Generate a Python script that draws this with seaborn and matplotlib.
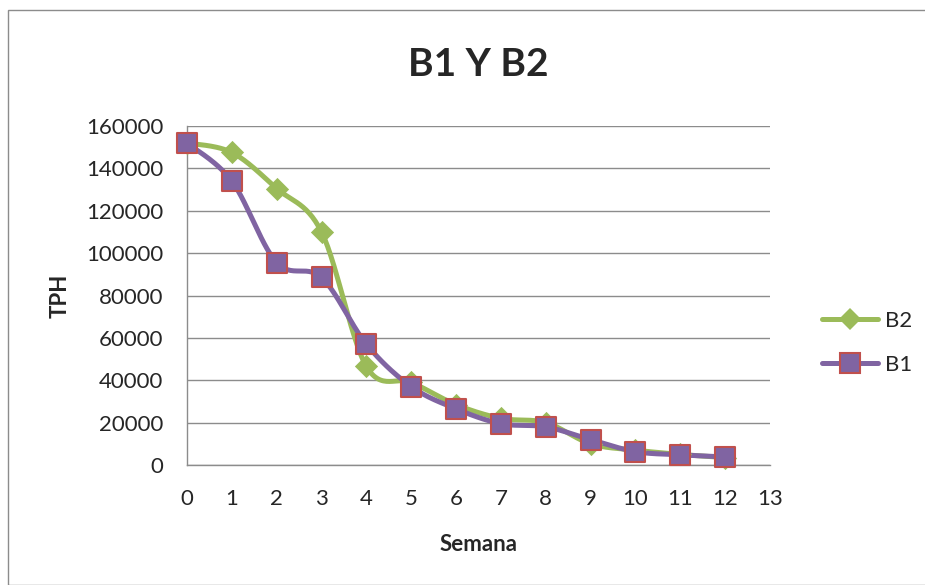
import numpy as np
import pandas as pd
import matplotlib
matplotlib.use('Agg')
import matplotlib.pyplot as plt
import seaborn as sns
from matplotlib.lines import Line2D
from matplotlib.patches import Rectangle

# datos
semana = [0, 1, 2, 3, 4, 5, 6, 7, 8, 9, 10, 11, 12]
b2 = [152000, 147500, 130500, 110000, 46500, 39000, 28500, 22000, 20000, 10000, 7000, 5000, 3500]
b1 = [152000, 134000, 95500, 88500, 57000, 37000, 26500, 19500, 18000, 12000, 6300, 4800, 3800]
yticks = list(range(0, 160001, 20000))
xticks = list(range(0, 14))

verde = '#9BBB59'
morado = '#8064A2'
rojo = '#C0504D'


def suavizar(x, y, n=30):
    # curva tipo Excel (bezier con tangentes de los vecinos)
    x = np.asarray(x, float)
    y = np.asarray(y, float)
    px, py = [], []
    for i in range(len(x) - 1):
        i0 = max(i - 1, 0)
        i3 = min(i + 2, len(x) - 1)
        c1x = x[i] + (x[i + 1] - x[i0]) / 6
        c1y = y[i] + (y[i + 1] - y[i0]) / 6
        c2x = x[i + 1] - (x[i3] - x[i]) / 6
        c2y = y[i + 1] - (y[i3] - y[i]) / 6
        t = np.linspace(0, 1, n)
        bx = (1 - t)**3 * x[i] + 3 * (1 - t)**2 * t * c1x + 3 * (1 - t) * t**2 * c2x + t**3 * x[i + 1]
        by = (1 - t)**3 * y[i] + 3 * (1 - t)**2 * t * c1y + 3 * (1 - t) * t**2 * c2y + t**3 * y[i + 1]
        px.extend(bx)
        py.extend(by)
    return np.array(px), np.array(py)


sns.set_style('white')
plt.rcParams['font.family'] = ['Lato', 'DejaVu Sans']

fig = plt.figure(figsize=(9.25, 5.85), dpi=100)
fig.patches.append(Rectangle((8 / 925, 0), 1, 1 - 10 / 585, transform=fig.transFigure,
                             fill=False, edgecolor='#8c8c8c', linewidth=1))
ax = fig.add_axes([187 / 925, 1 - 465 / 585, (770 - 187) / 925, (465 - 126) / 585])

for vals, color in [(b2, verde), (b1, morado)]:
    sx, sy = suavizar(semana, vals)
    sns.lineplot(x=sx, y=sy, ax=ax, color=color, linewidth=3.6, sort=False, estimator=None)

sns.scatterplot(x=semana, y=b2, ax=ax, marker='D', s=140, color=verde, edgecolor=verde,
                linewidth=0, zorder=3)
sns.scatterplot(x=semana, y=b1, ax=ax, marker='s', s=220, color=morado, edgecolor=rojo,
                linewidth=1.5, zorder=4)

ax.set_xlim(0, 13)
ax.set_ylim(0, 160000)
ax.set_xticks(xticks)
ax.set_yticks(yticks)
ax.set_xticklabels([str(v) for v in xticks], fontsize=16)
ax.set_yticklabels([str(v) for v in yticks], fontsize=16)
ax.grid(axis='y', color='#8c8c8c', linewidth=1)
ax.grid(axis='x', visible=False)
ax.set_axisbelow(True)
for lado in ['top', 'right']:
    ax.spines[lado].set_visible(False)
for lado in ['left', 'bottom']:
    ax.spines[lado].set_color('#8c8c8c')
    ax.spines[lado].set_linewidth(1)
ax.tick_params(axis='x', length=0, pad=17)
ax.tick_params(axis='y', length=0, pad=17)
for c in ax.collections:
    c.set_clip_on(False)

ax.set_xlabel('Semana', fontsize=16, fontweight='bold', labelpad=18)
ax.set_ylabel('TPH', fontsize=16, fontweight='bold', labelpad=11)
ax.set_title('B1 Y B2', fontsize=28, fontweight='bold', pad=36)

handles = [
    Line2D([], [], color=verde, linewidth=3.6, marker='D', markersize=11, markeredgewidth=0),
    Line2D([], [], color=morado, linewidth=3.6, marker='s', markersize=14,
           markerfacecolor=morado, markeredgecolor=rojo, markeredgewidth=1.5),
]
ax.legend(handles, ['B2', 'B1'], loc='center left', bbox_to_anchor=(1.09, 0.36),
          frameon=False, fontsize=16, handlelength=2.5, labelspacing=1.1,
          handletextpad=0.3, borderaxespad=0, borderpad=0)

fig.savefig('out.png', dpi=100)
